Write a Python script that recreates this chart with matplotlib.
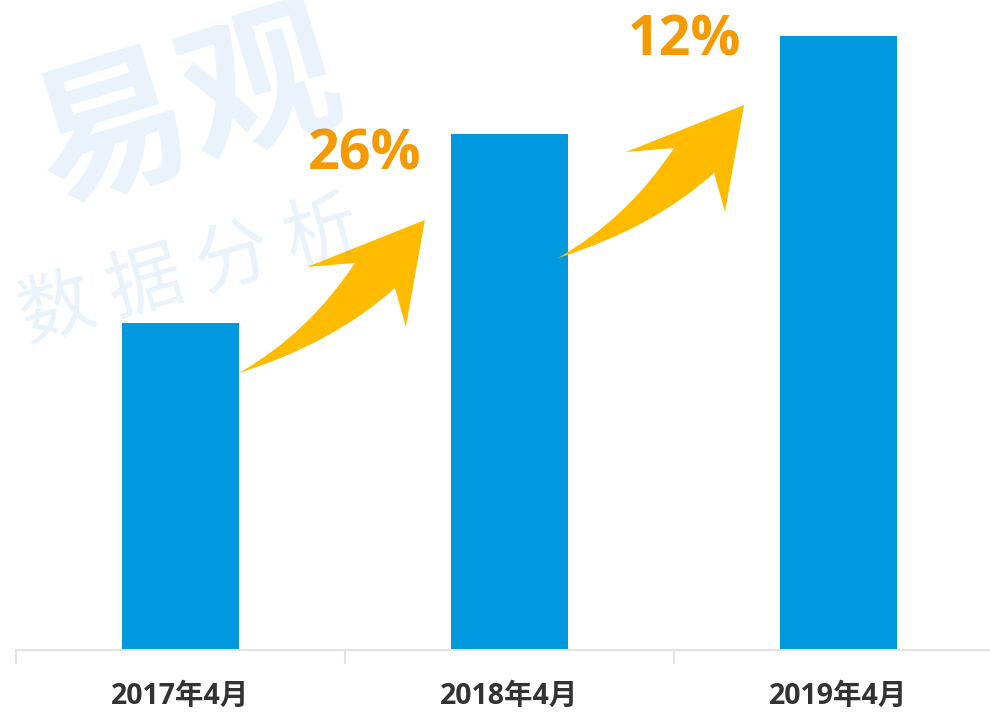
import matplotlib
matplotlib.use("Agg")
import matplotlib.pyplot as plt
from matplotlib.path import Path
from matplotlib.patches import PathPatch
from matplotlib.transforms import Affine2D, ScaledTranslation

# data
periods = ["2017年4月", "2018年4月", "2019年4月"]
values = [3.27, 5.16, 6.14]
growth_labels = ["26%", "12%"]

BAR_COLOR = "#0098df"
ARROW_COLOR = "#ffbb00"
PCT_COLOR = "#f59a00"
WM_COLOR = (0.16, 0.5, 0.86, 0.1)

plt.rcParams["font.family"] = ["Open Sans", "Noto Sans CJK SC", "DejaVu Sans"]

fig = plt.figure(figsize=(9.9, 7.12), dpi=100)
ax = fig.add_axes([16 / 990, 62 / 712, 987 / 990, 650 / 712])

x = list(range(len(periods)))
width = 0.355

ax.bar(x, values, width=width, color=BAR_COLOR, zorder=2)

ax.set_xlim(-0.5, 2.5)
ax.set_ylim(0, 6.5)
for s in ["top", "right", "left"]:
    ax.spines[s].set_visible(False)
ax.spines["bottom"].set_color("#e3e3e3")
ax.spines["bottom"].set_linewidth(1.5)
ax.set_yticks([])
ax.set_xticks(x)
ax.set_xticklabels(periods, fontsize=20.5, fontweight="bold", color="#333333")
ax.tick_params(axis="x", length=0, pad=23)
ax.set_xticks([-0.5, 0.5, 1.5, 2.5], minor=True)
ax.tick_params(axis="x", which="minor", length=10, width=1.5, color="#e3e3e3")

# swoosh arrow shape in pixels, tail at origin, y up
verts = [
    (0, 0),
    (70, 40), (116, 110),      # upper edge to notch
    (68, 106),                 # left barb
    (186, 153),                # tip
    (167, 46),                 # lower barb
    (156, 85),                 # lower notch
    (95, 30), (0, 0),          # lower edge back to tail
    (0, 0),
]
codes = [Path.MOVETO, Path.CURVE3, Path.CURVE3, Path.LINETO, Path.LINETO,
         Path.LINETO, Path.LINETO, Path.CURVE3, Path.CURVE3, Path.CLOSEPOLY]
arrow_path = Path(verts, codes)

arrow_tail_y = [2.77, 3.92]
for i, lab in enumerate(growth_labels):
    tx = x[i] + width / 2 - 0.03 * i
    tr = Affine2D() + ScaledTranslation(tx, arrow_tail_y[i], ax.transData)
    ax.add_patch(PathPatch(arrow_path, facecolor=ARROW_COLOR, edgecolor="none",
                           transform=tr, zorder=3, clip_on=False))
    # label sits above the arrow tip
    lt = Affine2D().translate(126, 203) + ScaledTranslation(tx, arrow_tail_y[i], ax.transData)
    ax.text(0, 0, lab, fontsize=40, fontweight="bold", color=PCT_COLOR,
            ha="center", va="baseline", transform=lt, zorder=4)

# watermark on top, faint
ax.text(188 / 990, 1 - 112 / 712, "易观", fontsize=112, fontweight="bold",
        color=WM_COLOR, rotation=17, ha="center", va="center",
        family=["Noto Sans CJK SC"], transform=fig.transFigure, zorder=5)
ax.text(190 / 990, 1 - 272 / 712, "数 据 分 析", fontsize=54, fontweight="light",
        color=WM_COLOR, rotation=16, ha="center", va="center",
        family=["Noto Sans CJK SC"], transform=fig.transFigure, zorder=5)

fig.savefig("out.png", dpi=100)
